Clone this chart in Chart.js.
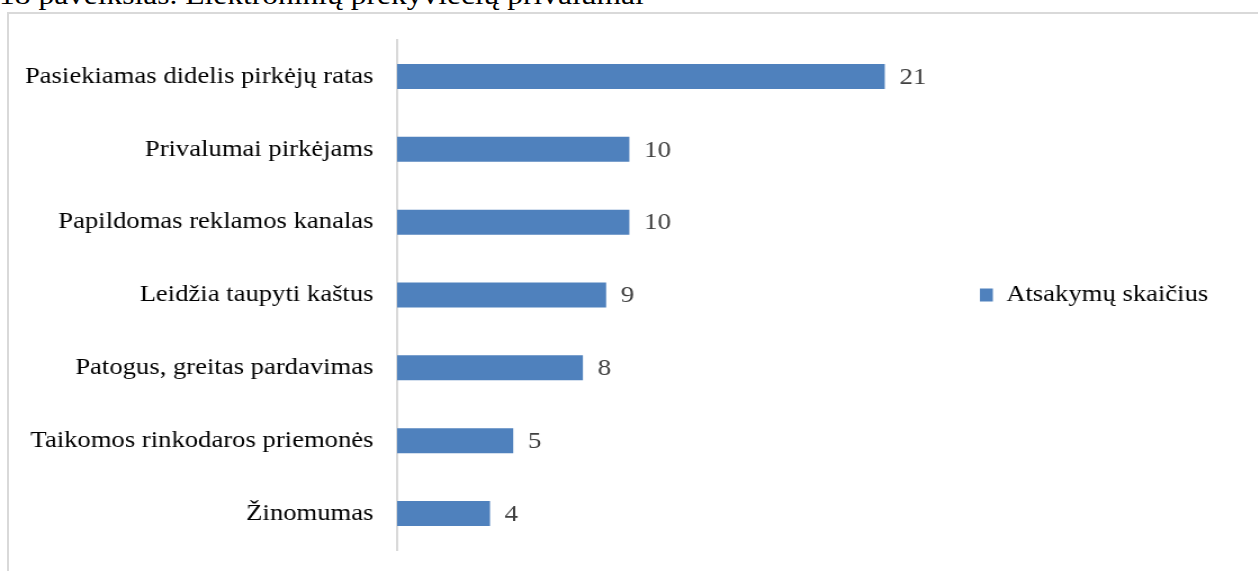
<!DOCTYPE html>
<html lang="lt">
<head>
<meta charset="utf-8">
<script src="https://cdn.jsdelivr.net/npm/chart.js@4"></script>
<style>
  html, body { margin: 0; padding: 0; background: #fff; overflow: hidden; }
  #page { position: relative; width: 1258px; height: 571px; overflow: hidden; }
  #caption {
    position: absolute; left: -1px; top: -19px;
    font-family: "Liberation Serif", serif; font-size: 28px; line-height: 1;
    color: #000; white-space: nowrap;
    transform: scaleX(1.125); transform-origin: 0 0;
  }
  #frame {
    position: absolute; left: 7px; top: 12px; width: 1400px; height: 700px;
    border: 2px solid #d9d9d9; box-sizing: border-box;
  }
  /* the figure is set a little wide, so the chart is drawn narrower and stretched */
  #wrap {
    position: absolute; left: 0; top: 0; width: 1118px; height: 571px;
    transform: scaleX(1.125); transform-origin: 0 0;
  }
</style>
</head>
<body>
<div id="page">
  <div id="caption">18 paveikslas. Elektroninių prekyviečių privalumai</div>
  <div id="frame"></div>
  <div id="wrap"><canvas id="myChart"></canvas></div>
</div>
<script>
const categories = [
  "Pasiekiamas didelis pirkėjų ratas",
  "Privalumai pirkėjams",
  "Papildomas reklamos kanalas",
  "Leidžia taupyti kaštus",
  "Patogus, greitas pardavimas",
  "Taikomos rinkodaros priemonės",
  "Žinomumas"
];
const answers = [21, 10, 10, 9, 8, 5, 4];
const seriesName = "Atsakymų skaičius";

const SERIF = "'Liberation Serif', 'Times New Roman', serif";

// value written just past the end of each bar
const barValues = {
  id: "barValues",
  afterDatasetsDraw(chart) {
    const ctx = chart.ctx;
    const meta = chart.getDatasetMeta(0);
    ctx.save();
    ctx.font = "24px " + SERIF;
    ctx.fillStyle = "#404040";
    ctx.textAlign = "left";
    ctx.textBaseline = "middle";
    meta.data.forEach((bar, i) => {
      ctx.fillText(chart.data.datasets[0].data[i], bar.x + 13, bar.y + 1);
    });
    ctx.restore();
  }
};

const barCanvas = document.getElementById("myChart");
const barChart = new Chart(barCanvas, {
  type: "bar",
  data: {
    labels: categories,
    datasets: [{
      label: seriesName,
      data: answers,
      backgroundColor: "#4F81BD",
      borderWidth: 0,
      categoryPercentage: 1,
      barPercentage: 0.343
    }]
  },
  options: {
    indexAxis: "y",
    responsive: true,
    maintainAspectRatio: false,
    animation: false,
    layout: {
      padding: { top: 40, bottom: 21, left: 0, right: 34 }
    },
    scales: {
      x: {
        display: false,
        min: 0,
        max: 25
      },
      y: {
        grid: { display: false },
        border: { display: true, color: "#d9d9d9", width: 2 },
        ticks: {
          color: "#000",
          padding: 13,
          font: { family: SERIF, size: 23.7 }
        },
        afterFit(scale) {
          scale.width = 353;
          scale.paddingTop = 0;
          scale.paddingBottom = 0;
        }
      }
    },
    plugins: {
      tooltip: { enabled: false },
      legend: {
        position: "right",
        align: "center",
        labels: {
          boxWidth: 11.5,
          boxHeight: 13,
          padding: 2,
          color: "#000",
          font: { family: SERIF, size: 23.7 }
        }
      }
    }
  },
  plugins: [barValues]
});
</script>
</body>
</html>
